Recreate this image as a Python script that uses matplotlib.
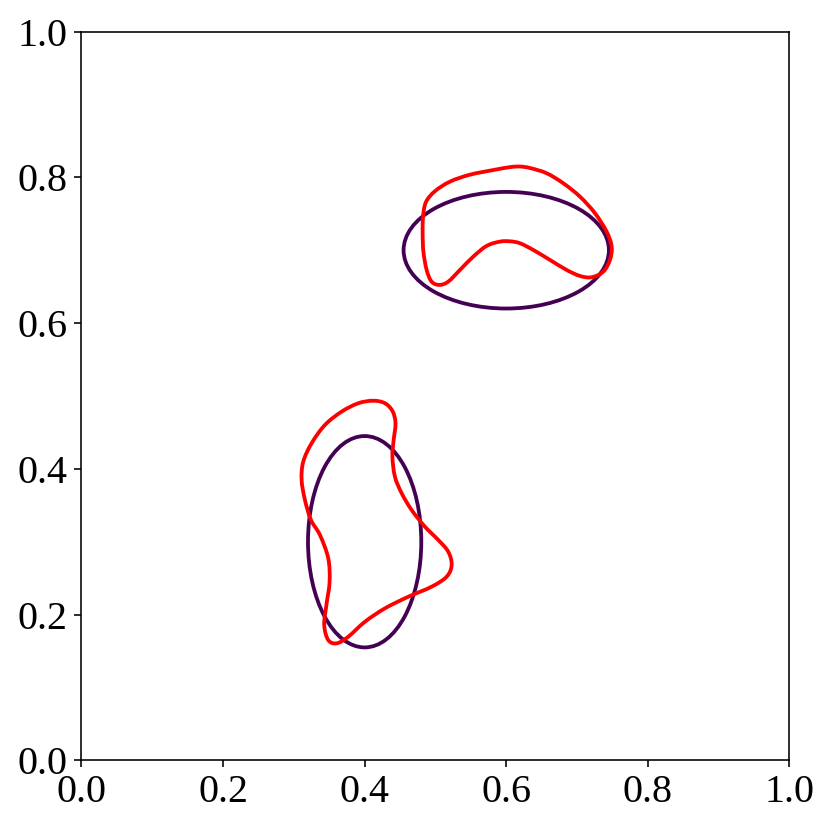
import matplotlib
matplotlib.use("Agg")
import matplotlib.pyplot as plt
from matplotlib.patches import Ellipse, PathPatch
from matplotlib.path import Path
import numpy as np

# ellipses: centre, width, height
ell_centers = [(0.6, 0.7), (0.4, 0.3)]
ell_widths = [0.29, 0.16]
ell_heights = [0.16, 0.29]

# red outline around the upper ellipse
upper_x = [0.4819, 0.4825, 0.4866, 0.4993, 0.5205, 0.5487, 0.5816, 0.6052, 0.6193, 0.6335,
           0.6571, 0.6805, 0.7041, 0.7253, 0.7418, 0.7489, 0.7465, 0.7370, 0.7206, 0.7041,
           0.6853, 0.6617, 0.6381, 0.6193, 0.6052, 0.5911, 0.5723, 0.5534, 0.5346, 0.5181,
           0.5054, 0.4946, 0.4876, 0.4830]
upper_y = [0.7233, 0.7461, 0.7660, 0.7810, 0.7941, 0.8036, 0.8100, 0.8140, 0.8148, 0.8128,
           0.8056, 0.7919, 0.7735, 0.7508, 0.7255, 0.7049, 0.6867, 0.6706, 0.6629, 0.6647,
           0.6729, 0.6867, 0.7004, 0.7096, 0.7122, 0.7118, 0.7059, 0.6912, 0.6729, 0.6569,
           0.6524, 0.6569, 0.6729, 0.6980]

# red outline around the lower ellipse
lower_x = [0.4121, 0.4287, 0.4395, 0.4436, 0.4410, 0.4392, 0.4428, 0.4523, 0.4664, 0.4852,
           0.5040, 0.5181, 0.5229, 0.5158, 0.4946, 0.4616, 0.4287, 0.4004, 0.3768, 0.3605,
           0.3486, 0.3429, 0.3460, 0.3505, 0.3486, 0.3369, 0.3242, 0.3157, 0.3110, 0.3133,
           0.3251, 0.3439, 0.3675, 0.3910]
lower_y = [0.4935, 0.4900, 0.4790, 0.4625, 0.4396, 0.4167, 0.3892, 0.3665, 0.3435, 0.3206,
           0.3024, 0.2863, 0.2680, 0.2520, 0.2383, 0.2245, 0.2086, 0.1902, 0.1696, 0.1606,
           0.1651, 0.1857, 0.2132, 0.2451, 0.2772, 0.3092, 0.3298, 0.3573, 0.3847, 0.4098,
           0.4351, 0.4602, 0.4785, 0.4900]


def closed_smooth_path(xs, ys):
    # cubic bezier through the read points (catmull-rom handles)
    p = np.column_stack([xs, ys])
    n = len(p)
    verts = [p[0]]
    codes = [Path.MOVETO]
    for i in range(n):
        p0, p1, p2, p3 = p[i - 1], p[i], p[(i + 1) % n], p[(i + 2) % n]
        verts += [p1 + (p2 - p0) / 6, p2 - (p3 - p1) / 6, p2]
        codes += [Path.CURVE4] * 3
    return Path(verts, codes)


plt.rcParams["font.family"] = ["Liberation Serif", "DejaVu Serif"]
plt.rcParams["font.size"] = 20

fig = plt.figure(figsize=(831 / 144, 831 / 144), dpi=144)
ax = fig.add_axes([0.098, 0.085, 0.852, 0.877])

for c, w, h in zip(ell_centers, ell_widths, ell_heights):
    ax.add_patch(Ellipse(c, w, h, fill=False, edgecolor="#440154", linewidth=1.9))

for xs, ys in [(upper_x, upper_y), (lower_x, lower_y)]:
    ax.add_patch(PathPatch(closed_smooth_path(xs, ys), fill=False, edgecolor="red", linewidth=1.9))

ax.set_xlim(0, 1)
ax.set_ylim(0, 1)
ax.set_xticks([0, 0.2, 0.4, 0.6, 0.8, 1.0])
ax.set_yticks([0, 0.2, 0.4, 0.6, 0.8, 1.0])

fig.savefig("out.png", dpi=144)
